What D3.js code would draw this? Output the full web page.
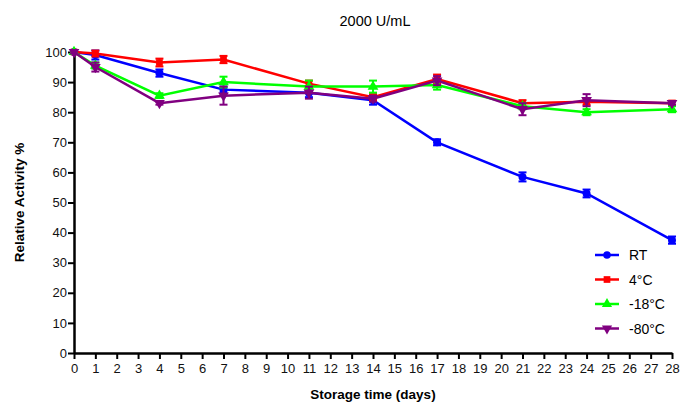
<!DOCTYPE html>
<html>
<head>
<meta charset="utf-8">
<script src="https://cdn.jsdelivr.net/npm/d3@7"></script>
<style>
  body { margin: 0; background: #fff; }
  svg { font-family: "Liberation Sans", Arial, sans-serif; }
</style>
</head>
<body>
<svg class="chart"></svg>
<script>
// data
var days = [0, 1, 4, 7, 11, 14, 17, 21, 24, 28];
var seriesNames = ["RT", "4°C", "-18°C", "-80°C"];
var seriesColors = ["#0000ff", "#ff0000", "#00ff00", "#800080"];
var rtValues   = [100, 99, 93, 87.5, 86.5, 84, 70, 58.5, 53, 37.5];
var rtErr      = [0.5, 1.5, 1.2, 1, 1.5, 1.5, 1, 1.5, 1.3, 1.2];
var c4Values   = [100, 99.5, 96.5, 97.5, 89.5, 85, 91, 83, 83.5, 83];
var c4Err      = [0.5, 1, 1.3, 1.2, 1, 1, 1.5, 1, 1, 0.8];
var m18Values  = [100, 95.5, 85.5, 90, 88.5, 88.5, 89, 82, 80, 81];
var m18Err     = [0.5, 1, 0.8, 1.8, 2, 2, 1.5, 1, 1, 1];
var m80Values  = [100, 95, 83, 85.5, 86.5, 84.5, 90.5, 81, 84, 83];
var m80Err     = [0.5, 1.5, 0.5, 3, 2, 1, 1.5, 2, 2, 0.5];
var yTicks = d3.range(0, 101, 10);
var xTicks = d3.range(0, 29, 1);

var allValues = [rtValues, c4Values, m18Values, m80Values];
var allErr = [rtErr, c4Err, m18Err, m80Err];
var symbols = [d3.symbolCircle, d3.symbolSquare, d3.symbolTriangle, d3.symbolTriangle];

var width = 680, height = 405;
var svg = d3.select(".chart").attr("width", width).attr("height", height);

var x = d3.scaleLinear().domain([0, 28]).range([74, 672]);
var y = d3.scaleLinear().domain([0, 100]).range([353, 52]);

// axes
var xAxis = svg.append("g")
    .attr("transform", "translate(0," + y(0) + ")")
    .call(d3.axisBottom(x).tickValues(xTicks).tickSize(6).tickSizeOuter(0));
var yAxis = svg.append("g")
    .attr("transform", "translate(" + x(0) + ",0)")
    .call(d3.axisLeft(y).tickValues(yTicks).tickSize(6).tickSizeOuter(0));

[xAxis, yAxis].forEach(function(ax) {
    ax.select(".domain").attr("stroke", "#000").attr("stroke-width", 2.5);
    ax.selectAll(".tick line").attr("stroke", "#000").attr("stroke-width", 2);
    ax.selectAll(".tick text").attr("font-size", 13).attr("fill", "#111")
        .attr("font-family", "'Liberation Sans', Arial, sans-serif");
});
xAxis.selectAll(".tick text").attr("dy", "0.85em");
yAxis.selectAll(".tick text").attr("dx", "0.15em");

// titles
svg.append("text").attr("x", 375).attr("y", 26).attr("text-anchor", "middle")
    .attr("font-size", 14.5).text("2000 U/mL");
svg.append("text").attr("x", 373).attr("y", 399).attr("text-anchor", "middle")
    .attr("font-size", 13.5).attr("font-weight", "bold").text("Storage time (days)");
svg.append("text").attr("transform", "translate(24," + ((y(0) + y(100)) / 2) + ") rotate(-90)")
    .attr("text-anchor", "middle").attr("font-size", 13.5).attr("font-weight", "bold")
    .text("Relative Activity %");

var line = d3.line()
    .x(function(d, i) { return x(days[i]); })
    .y(function(d) { return y(d); });

var plot = svg.append("g");

allValues.forEach(function(vals, s) {
    var g = plot.append("g");
    var col = seriesColors[s];
    // error bars
    vals.forEach(function(v, i) {
        var e = allErr[s][i];
        var cx = x(days[i]);
        g.append("line").attr("x1", cx).attr("x2", cx)
            .attr("y1", y(v - e)).attr("y2", y(v + e))
            .attr("stroke", col).attr("stroke-width", 2);
        [v - e, v + e].forEach(function(t) {
            g.append("line").attr("x1", cx - 4).attr("x2", cx + 4)
                .attr("y1", y(t)).attr("y2", y(t))
                .attr("stroke", col).attr("stroke-width", 2);
        });
    });
    g.append("path").datum(vals).attr("d", line)
        .attr("fill", "none").attr("stroke", col).attr("stroke-width", 2.5);
    g.selectAll(".pt").data(vals).enter().append("path")
        .attr("d", d3.symbol().type(symbols[s]).size(s === 1 ? 45 : 50))
        .attr("transform", function(d, i) {
            return "translate(" + x(days[i]) + "," + y(d) + ")" + (s === 3 ? " rotate(180)" : "");
        })
        .attr("fill", col);
});

// legend
var legend = svg.append("g");
seriesNames.forEach(function(name, s) {
    var ly = 255 + s * 24.5;
    var lg = legend.append("g").attr("transform", "translate(595," + ly + ")");
    lg.append("line").attr("x1", 0).attr("x2", 24).attr("stroke", seriesColors[s]).attr("stroke-width", 2.5);
    lg.append("path").attr("d", d3.symbol().type(symbols[s]).size(45))
        .attr("transform", "translate(12,0)" + (s === 3 ? " rotate(180)" : ""))
        .attr("fill", seriesColors[s]);
    lg.append("text").attr("x", 34).attr("y", 5).attr("font-size", 14).text(name);
});
</script>
</body>
</html>
